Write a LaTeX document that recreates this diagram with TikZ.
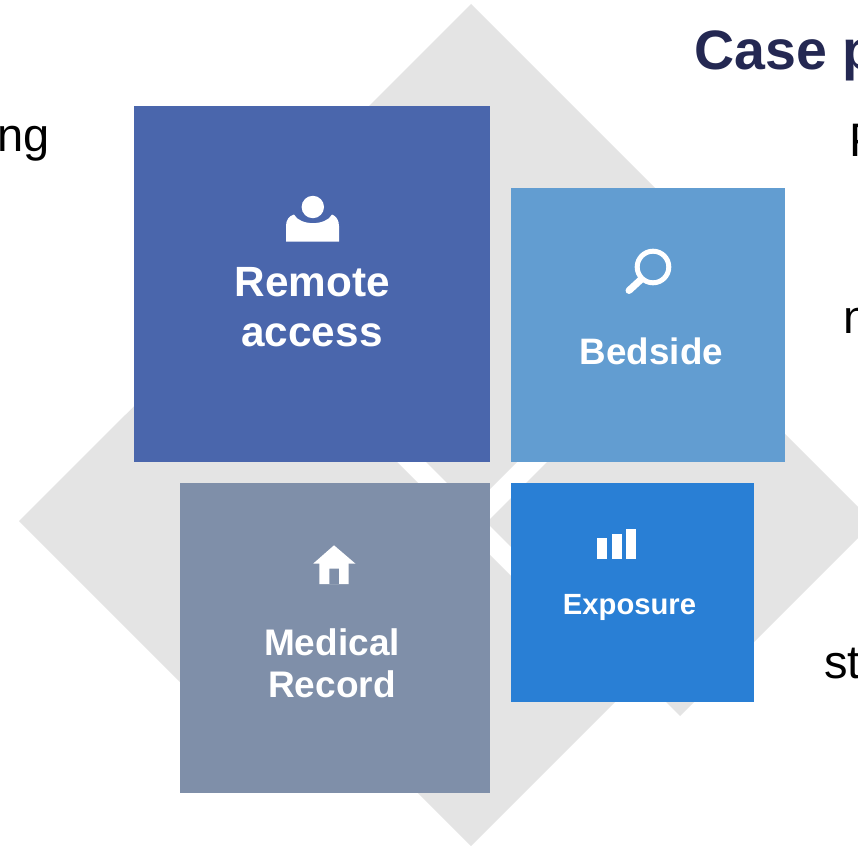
\documentclass[tikz,border=0pt]{standalone}
\usepackage{fontspec}
\setmainfont{Liberation Sans}
\definecolor{dgrey}{HTML}{E4E4E4}
\definecolor{cremote}{HTML}{4A66AC}
\definecolor{cbed}{HTML}{629DD1}
\definecolor{cmed}{HTML}{7F8FA9}
\definecolor{cexp}{HTML}{297FD5}
\definecolor{ctitle}{HTML}{242852}
\tikzset{
  diamondbg/.style={fill=dgrey,draw=none},
  tile/.style={draw=none,inner sep=0pt,outer sep=0pt,anchor=north west},
  label/.style={text=white,font=\bfseries,align=center,inner sep=0pt,anchor=base},
  outer/.style={inner sep=0pt,anchor=base west,text=black},
  icon/.style={fill=white,draw=none}
}
\begin{document}
\begin{tikzpicture}[x=1pt,y=-1pt]
\useasboundingbox (0,0) rectangle (858,845);
\clip (0,0) rectangle (858,845);
\fill[white] (0,0) rectangle (858,845);
% grey diamonds
\fill[diamondbg] (471,4) -- (723,256) -- (471.5,507.5) -- (219.5,255.5) -- cycle;
\fill[diamondbg] (680,329) -- (873.5,522.5) -- (680,716) -- (486.5,522.5) -- cycle;
\fill[diamondbg] (238,302.5) -- (457,522) -- (238.5,740.5) -- (19,521) -- cycle;
\fill[diamondbg] (472,537) -- (626,691) -- (471,846) -- (317,692) -- cycle;
% tiles
\node[tile,fill=cremote,minimum width=356pt,minimum height=356pt] (remote) at (134,106) {};
\node[tile,fill=cbed,minimum width=274pt,minimum height=274pt] (bedside) at (511,188) {};
\node[tile,fill=cmed,minimum width=310pt,minimum height=310pt] (medical) at (180,483) {};
\node[tile,fill=cexp,minimum width=243pt,minimum height=219pt] (exposure) at (511,483) {};
% labels
\node[label,font=\fontsize{42.3}{50}\selectfont\bfseries] (t1) at (312.5,296) {Remote};
\node[label,font=\fontsize{42.3}{50}\selectfont\bfseries] (t2) at (312,346) {access};
\node[label,font=\fontsize{36.8}{44}\selectfont\bfseries] (t3) at (651.5,364) {Bedside};
\node[label,font=\fontsize{37}{44}\selectfont\bfseries] (t4) at (332,655) {Medical};
\node[label,font=\fontsize{37}{44}\selectfont\bfseries] (t5) at (332,697) {Record};
\node[label,font=\fontsize{29.2}{35}\selectfont\bfseries] (t6) at (629.5,614) {Exposure};
% person icon
\fill[icon] (286,241.5) -- (286,226) .. controls (286,220) and (289,216) .. (294,214.5)
  .. controls (300,226) and (326,226) .. (332,214.5)
  .. controls (336,216) and (339,220) .. (339,226) -- (339,241.5) -- cycle;
\fill[icon] (312.8,207) circle (11.2);
% magnifier icon
\draw[white,line width=5pt] (653,267) circle (15.8);
\draw[white,line width=7pt,line cap=round] (641,279.5) -- (629,290.5);
% house icon
\fill[icon] (313.3,563.5) -- (334,545.3) -- (355.3,563.5) -- cycle;
\fill[icon,even odd rule] (319.3,563) rectangle (348.7,584) (329.3,568.7) rectangle (339,584);
% bars icon
\fill[icon] (597,538) rectangle (607,559);
\fill[icon] (612,534) rectangle (622,559);
\fill[icon] (626,529) rectangle (636,559);
% clipped outer text
\node[outer,text=ctitle,font=\fontsize{55.5}{60}\selectfont\bfseries] (title) at (694.5,70) {Case p};
\node[outer,font=\fontsize{47}{56}\selectfont] (a) at (-3,152) {ng};
\node[outer,font=\fontsize{47}{56}\selectfont] (b) at (849.5,157) {P};
\node[outer,font=\fontsize{47}{56}\selectfont] (c) at (843,333) {n};
\node[outer,font=\fontsize{47}{56}\selectfont] (d) at (824,678) {st};
\end{tikzpicture}
\end{document}
